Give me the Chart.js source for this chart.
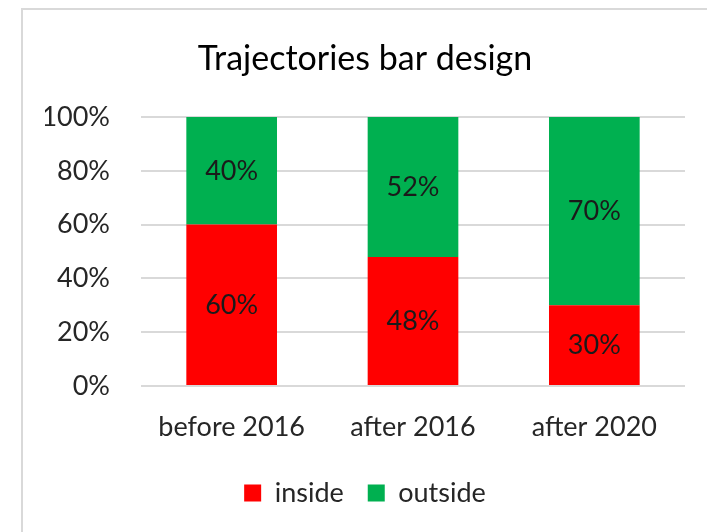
<!DOCTYPE html>
<html>
<head>
<meta charset="utf-8">
<script src="https://cdn.jsdelivr.net/npm/chart.js@4"></script>
<style>
  body { margin: 0; background: #fff; }
  #wrap { position: relative; width: 707px; height: 532px; overflow: hidden; }
  #frame { position: absolute; left: 21px; top: 8px; width: 800px; height: 600px; border: 2px solid #d9d9d9; }
  canvas { position: absolute; left: 0; top: 0; }
</style>
</head>
<body>
<div id="wrap">
  <div id="frame"></div>
  <canvas id="myChart" width="707" height="532"></canvas>
</div>
<script>
// Datos del gráfico
const categories = ['before 2016', 'after 2016', 'after 2020'];
const insideValues = [60, 48, 30];
const outsideValues = [40, 52, 70];
const yTicks = [0, 20, 40, 60, 80, 100];

const FONT = "Lato, 'Open Sans', sans-serif";

// Etiquetas dentro de las barras
const barLabels = {
    id: 'barLabels',
    afterDatasetsDraw(chart) {
        const ctx = chart.ctx;
        ctx.save();
        ctx.font = '27px ' + FONT;
        ctx.fillStyle = '#1a1a1a';
        ctx.textAlign = 'center';
        ctx.textBaseline = 'middle';
        chart.data.datasets.forEach((ds, i) => {
            chart.getDatasetMeta(i).data.forEach((bar, j) => {
                const p = bar.getCenterPoint();
                ctx.fillText(ds.data[j] + '%', p.x, p.y);
            });
        });
        ctx.restore();
    }
};

const ctx = document.getElementById('myChart').getContext('2d');

new Chart(ctx, {
    type: 'bar',
    data: {
        labels: categories,
        datasets: [
            {
                label: 'inside',
                data: insideValues,
                backgroundColor: '#ff0000',
                borderWidth: 0,
                categoryPercentage: 1,
                barPercentage: 0.5
            },
            {
                label: 'outside',
                data: outsideValues,
                backgroundColor: '#00b050',
                borderWidth: 0,
                categoryPercentage: 1,
                barPercentage: 0.5
            }
        ]
    },
    options: {
        responsive: false,
        animation: false,
        layout: {
            padding: { top: 0, right: 22, bottom: 15.5, left: 45 }
        },
        plugins: {
            title: {
                display: true,
                text: 'Trajectories bar design',
                color: '#000',
                font: { size: 34, family: FONT, weight: 'normal', lineHeight: 1.2 },
                padding: { top: 38.5, bottom: 37.7 }
            },
            legend: {
                position: 'bottom',
                labels: {
                    boxWidth: 17,
                    boxHeight: 17,
                    padding: 24,
                    color: '#262626',
                    font: { size: 27, family: FONT }
                }
            },
            tooltip: { enabled: false }
        },
        scales: {
            x: {
                stacked: true,
                grid: { display: false },
                border: { display: false },
                afterFit(scale) {
                    scale.height = 69.5;
                },
                ticks: {
                    color: '#262626',
                    font: { size: 27, family: FONT },
                    padding: 17
                }
            },
            y: {
                stacked: true,
                min: 0,
                max: 100,
                afterBuildTicks(scale) {
                    scale.ticks = yTicks.map(v => ({ value: v }));
                },
                afterFit(scale) {
                    scale.width = 96;
                },
                grid: { color: '#d9d9d9', lineWidth: 2, drawTicks: false },
                border: { display: false },
                ticks: {
                    color: '#262626',
                    font: { size: 27, family: FONT },
                    padding: 31,
                    callback: v => v + '%'
                }
            }
        }
    },
    plugins: [barLabels]
});
</script>
</body>
</html>
